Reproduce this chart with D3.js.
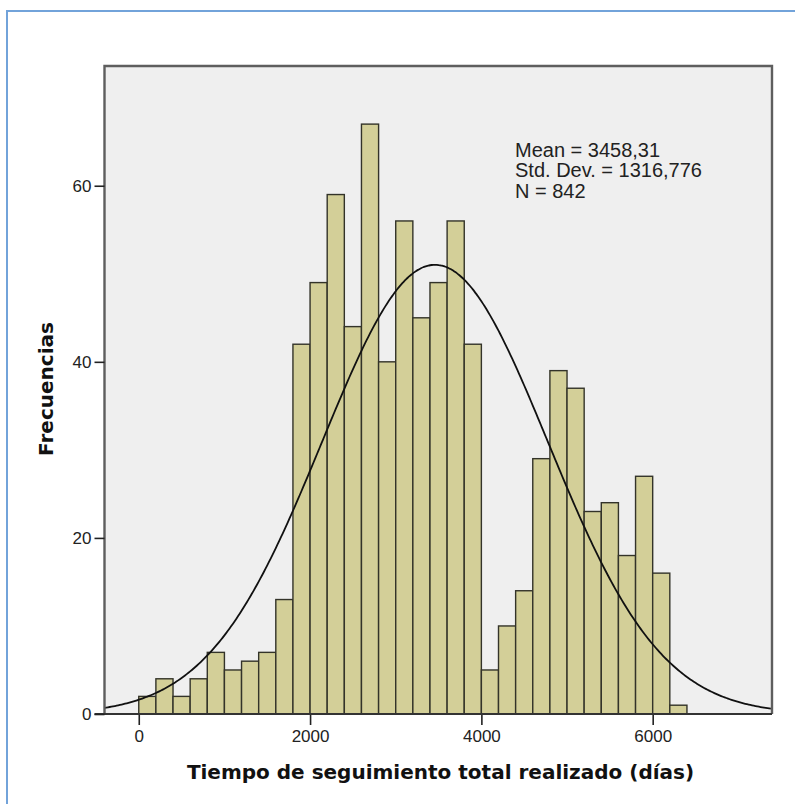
<!DOCTYPE html>
<html>
<head>
<meta charset="utf-8">
<script src="https://cdn.jsdelivr.net/npm/d3@7"></script>
<style>
  html, body { margin: 0; padding: 0; background: #ffffff; }
  svg { display: block; }
</style>
</head>
<body>
<svg id="chart" width="795" height="804"></svg>
<script>
// Histogram bins: lower edge of each 200-day bin and its frequency
const binStarts = [0, 200, 400, 600, 800, 1000, 1200, 1400, 1600, 1800,
                   2000, 2200, 2400, 2600, 2800, 3000, 3200, 3400, 3600, 3800,
                   4000, 4200, 4400, 4600, 4800, 5000, 5200, 5400, 5600, 5800,
                   6000, 6200];
const frequencies = [2, 4, 2, 4, 7, 5, 6, 7, 13, 42,
                     49, 59, 44, 67, 40, 56, 45, 49, 56, 42,
                     5, 10, 14, 29, 39, 37, 23, 24, 18, 27,
                     16, 1];
const binWidth = 200;

// Summary statistics shown in the annotation
const statMean = 3458.31;
const statSd = 1316.776;
const statN = 842;
const statLabels = ["Mean = 3458,31", "Std. Dev. = 1316,776", "N = 842"];

// Axis ticks
const xTicks = [0, 2000, 4000, 6000];
const yTicks = [0, 20, 40, 60];

const xTitle = "Tiempo de seguimiento total realizado (días)";
const yTitle = "Frecuencias";

const svg = d3.select("#chart");

const plot = { left: 104.5, right: 772, top: 66, bottom: 714 };

const x = d3.scaleLinear().domain([-400, 7393]).range([plot.left, plot.right]);
const y = d3.scaleLinear().domain([0, 73.6]).range([plot.bottom, plot.top]);

// Outer panel edge (blue)
svg.append("path")
  .attr("d", "M7,804 L7,11 L795,11")
  .attr("fill", "none")
  .attr("stroke", "#72a3da")
  .attr("stroke-width", 2);

// Plot background
svg.append("rect")
  .attr("x", plot.left).attr("y", plot.top)
  .attr("width", plot.right - plot.left).attr("height", plot.bottom - plot.top)
  .attr("fill", "#efefef");

// Bars
const bins = binStarts.map((s, i) => ({ x0: s, x1: s + binWidth, n: frequencies[i] }));
svg.append("g").selectAll("rect")
  .data(bins)
  .join("rect")
  .attr("x", d => x(d.x0))
  .attr("y", d => y(d.n))
  .attr("width", d => x(d.x1) - x(d.x0))
  .attr("height", d => y(0) - y(d.n))
  .attr("fill", "#d3cf98")
  .attr("stroke", "#333329")
  .attr("stroke-width", 1.4);

// Fitted normal curve scaled to counts
const scale = statN * binWidth / (statSd * Math.sqrt(2 * Math.PI));
const curvePts = d3.range(-400, 7393 + 1, 20).map(v => [v, scale * Math.exp(-0.5 * Math.pow((v - statMean) / statSd, 2))]);
svg.append("path")
  .datum(curvePts)
  .attr("d", d3.line().x(d => x(d[0])).y(d => y(d[1])).curve(d3.curveBasis))
  .attr("fill", "none")
  .attr("stroke", "#111")
  .attr("stroke-width", 1.8);

// Plot frame
svg.append("path")
  .attr("d", `M${plot.left},${plot.bottom} L${plot.left},${plot.top} L${plot.right},${plot.top} L${plot.right},${plot.bottom}`)
  .attr("fill", "none")
  .attr("stroke", "#5e5e5e")
  .attr("stroke-width", 2.4);

// X axis
const xAxis = d3.axisBottom(x).tickValues(xTicks).tickSize(11).tickPadding(5).tickFormat(d3.format("d"));
const gx = svg.append("g").attr("transform", `translate(0,${plot.bottom})`).call(xAxis);
gx.select(".domain").remove();
gx.append("line")
  .attr("x1", plot.left - 10).attr("x2", plot.right)
  .attr("y1", 0).attr("y2", 0)
  .attr("stroke", "#333").attr("stroke-width", 2);
gx.selectAll(".tick line").attr("stroke", "#222").attr("stroke-width", 1.6);
gx.selectAll(".tick text")
  .attr("fill", "#222")
  .style("font-family", "'Liberation Sans', Arial, sans-serif")
  .style("font-size", "17px");

// Y axis
const yAxis = d3.axisLeft(y).tickValues(yTicks).tickSize(10).tickPadding(3).tickFormat(d3.format("d"));
const gy = svg.append("g").attr("transform", `translate(${plot.left},0)`).call(yAxis);
gy.select(".domain").remove();
gy.selectAll(".tick line").attr("stroke", "#222").attr("stroke-width", 1.6);
gy.selectAll(".tick text")
  .attr("fill", "#222")
  .style("font-family", "'Liberation Sans', Arial, sans-serif")
  .style("font-size", "17px");

// Statistics annotation
svg.append("g").selectAll("text")
  .data(statLabels)
  .join("text")
  .attr("x", 515)
  .attr("y", (d, i) => 156.5 + i * 20.5)
  .attr("fill", "#222")
  .style("font-family", "'Liberation Sans', Arial, sans-serif")
  .style("font-size", "20px")
  .text(d => d);

// Axis titles
svg.append("text")
  .attr("x", 440.5).attr("y", 779)
  .attr("text-anchor", "middle")
  .attr("fill", "#111")
  .style("font-family", "'DejaVu Sans', Verdana, sans-serif")
  .style("font-weight", "bold")
  .style("font-size", "20px")
  .text(xTitle);

svg.append("text")
  .attr("transform", "translate(53,389) rotate(-90)")
  .attr("text-anchor", "middle")
  .attr("fill", "#111")
  .style("font-family", "'DejaVu Sans', Verdana, sans-serif")
  .style("font-weight", "bold")
  .style("font-size", "20px")
  .text(yTitle);
</script>
</body>
</html>
